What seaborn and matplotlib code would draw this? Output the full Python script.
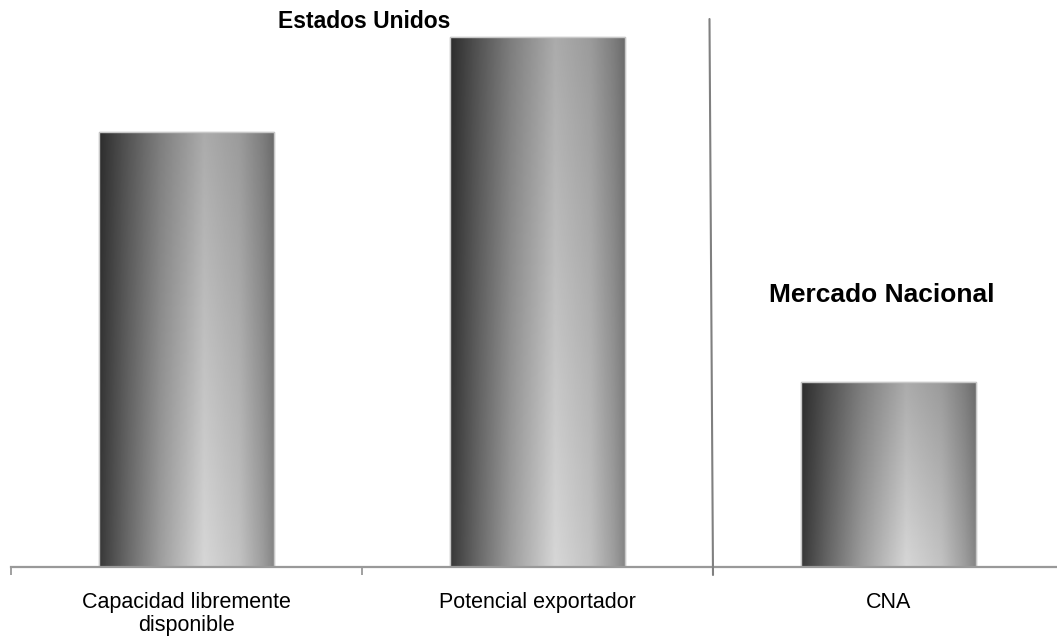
import matplotlib
matplotlib.use("Agg")
import matplotlib.pyplot as plt
import numpy as np
import pandas as pd
import seaborn as sns

# values (relative heights of the bars)
categories = ["Capacidad libremente\ndisponible", "Potencial exportador", "CNA"]
values = [435, 530, 185]
groups = ["Estados Unidos", "Estados Unidos", "Mercado Nacional"]

df = pd.DataFrame({"categoria": categories, "valor": values, "grupo": groups})

sns.set_style("white")
plt.rcParams["font.family"] = ["Liberation Sans", "DejaVu Sans"]

fig = plt.figure(figsize=(10.57, 6.36), dpi=100)
ax = fig.add_axes([11 / 1057, 69 / 636, 1053 / 1057, 548 / 636])

sns.barplot(data=df, x="categoria", y="valor", color="#999999", width=0.5,
            edgecolor="#c8c8c8", linewidth=1, ax=ax)

# cylinder-like grey gradient on every bar
xs = np.array([0.0, 0.04, 0.15, 0.35, 0.6, 0.8, 0.93, 1.0])
ys = np.array([0.22, 0.27, 0.40, 0.62, 0.84, 0.76, 0.62, 0.52])
xx = np.linspace(0, 1, 200)
profile = np.interp(xx, xs, ys)
vert = np.linspace(0.80, 1.0, 100)[:, None]  # first row (top) darker
shade = np.clip(profile[None, :] * vert, 0, 1)

for bar in ax.patches:
    x0, y0 = bar.get_x(), bar.get_y()
    w, h = bar.get_width(), bar.get_height()
    im = ax.imshow(shade, cmap="gray", vmin=0, vmax=1, aspect="auto",
                   extent=[x0, x0 + w, y0, y0 + h], origin="upper", zorder=bar.get_zorder() + 0.1)
    im.set_clip_path(bar)
    edge = plt.Rectangle((x0, y0), w, h, fill=False, edgecolor="#c8c8c8", lw=1,
                         zorder=bar.get_zorder() + 0.2)
    ax.add_patch(edge)

ax.set_xlim(-0.5, 2.5)
ax.set_ylim(0, 548)

# group separator
ax.plot([1.49, 1.5], [548, -8], color="#808080", lw=1.5, clip_on=False, zorder=5)

ax.text(0.505, 545, "Estados Unidos", ha="center", va="center", fontsize=16.5,
        fontweight="bold", color="black")
ax.text(1.981, 272, "Mercado Nacional", ha="center", va="center", fontsize=19,
        fontweight="bold", color="black")

for side in ["left", "right", "top"]:
    ax.spines[side].set_visible(False)
ax.spines["bottom"].set_color("#999999")
ax.spines["bottom"].set_linewidth(1.6)

ax.set_yticks([])
ax.set_xlabel("")
ax.set_ylabel("")
ax.tick_params(axis="x", which="major", bottom=True, length=0, pad=18, labelsize=15.5,
               labelcolor="black")
ax.set_xticks([-0.5, 0.5, 1.5, 2.5], minor=True)
ax.tick_params(axis="x", which="minor", bottom=True, length=6, width=1.3, color="#999999",
               direction="out")
for lab in ax.get_xticklabels():
    lab.set_linespacing(1.12)

fig.savefig("out.png", dpi=100, facecolor="white")
